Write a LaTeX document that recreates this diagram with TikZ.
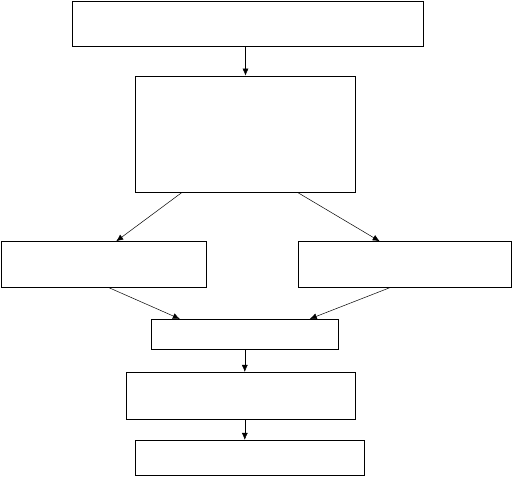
\documentclass[tikz,border=0pt]{standalone}
\usepackage{tikz}
\usetikzlibrary{arrows.meta, calc, positioning}

\begin{document}
\begin{tikzpicture}[
  x=1pt, y=-1pt,
  box/.style={draw, line width=0.8pt, inner sep=0pt, fill=white},
  arrow/.style={-{Latex[length=7pt, width=6pt]}, line width=0.5pt}
]
\useasboundingbox (0,0) rectangle (512,477);

% ---------------- Boxes ----------------
\node[box, minimum width=351pt, minimum height=44.7pt] (top)   at (247.8,23.7)  {};
\node[box, minimum width=220.4pt, minimum height=116pt] (proc) at (245.5,134)   {};
\node[box, minimum width=205pt, minimum height=45.3pt] (lbox)  at (104.2,264.3) {};
\node[box, minimum width=212.7pt, minimum height=45.3pt] (rbox) at (404.7,264.3) {};
\node[box, minimum width=187pt, minimum height=30pt] (merge)   at (244.8,334.3) {};
\node[box, minimum width=229.4pt, minimum height=46.7pt] (stepa) at (241,395.7)  {};
\node[box, minimum width=229pt, minimum height=35.4pt] (stepb)  at (250.2,458)   {};

% ---------------- Arrows ----------------
\draw[arrow] (top.south -| proc.north) -- (proc.north);
\draw[arrow] ($(proc.south)+(-63.5,0)$) -- ($(lbox.north)+(12,0)$);
\draw[arrow] ($(proc.south)+(52,0)$) -- ($(rbox.north)+(-25,0)$);
\draw[arrow] ($(lbox.south)+(4,0)$) -- ($(merge.north)+(-65,0)$);
\draw[arrow] ($(rbox.south)+(-14,0)$) -- ($(merge.north)+(65,0)$);
\draw[arrow] (merge.south) -- (merge.south |- stepa.north);
\draw[arrow] (stepa.south -| merge.south) -- (stepb.north -| merge.south);

\end{tikzpicture}
\end{document}
